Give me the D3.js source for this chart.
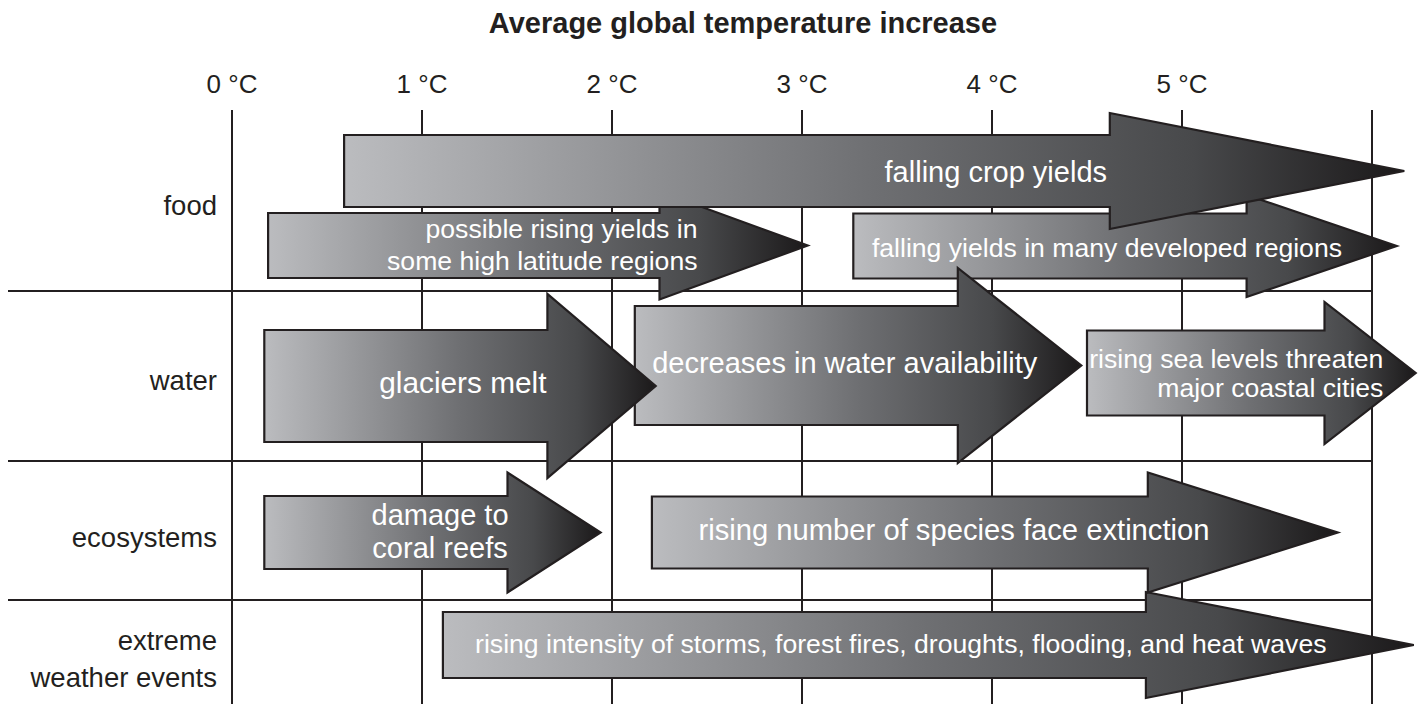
<!DOCTYPE html>
<html>
<head>
<meta charset="utf-8">
<script src="https://cdn.jsdelivr.net/npm/d3@7"></script>
<style>
  html, body { margin: 0; padding: 0; background: #fff; }
  svg { display: block; font-family: "Liberation Sans", Arial, Helvetica, sans-serif; }
</style>
</head>
<body>
<svg id="chart" width="1420" height="704"></svg>
<script>
// ---------- DATA ----------
const titleText = "Average global temperature increase";
const tempTicks = [0, 1, 2, 3, 4, 5, 6];
const tickLabels = ["0 °C", "1 °C", "2 °C", "3 °C", "4 °C", "5 °C", ""];
const categories = ["food", "water", "ecosystems", "extreme weather events"];
const categoryLines = [["food"], ["water"], ["ecosystems"], ["extreme", "weather events"]];

// impacts (in drawing order)
const impactIds = ["possible", "fallingMany", "fallingCrop", "decreases", "glaciers", "seaLevels", "coral", "storms", "species"];
const impactLines = [
  ["possible rising yields in", "some high latitude regions"],
  ["falling yields in many developed regions"],
  ["falling crop yields"],
  ["decreases in water availability"],
  ["glaciers melt"],
  ["rising sea levels threaten", "major coastal cities"],
  ["damage to", "coral reefs"],
  ["rising intensity of storms, forest fires, droughts, flooding, and heat waves"],
  ["rising number of species face extinction"]
];
const impactCategory = ["food", "food", "food", "water", "water", "water", "ecosystems", "extreme weather events", "ecosystems"];
const impactStart     = [0.19, 3.27, 0.59, 2.12, 0.17, 4.50, 0.17, 1.11, 2.21];   // °C where arrow begins
const impactHeadStart = [2.25, 5.34, 4.62, 3.82, 1.66, 5.75, 1.45, 4.81, 4.82];   // °C where arrow head begins
const impactEnd       = [3.03, 6.13, 6.17, 4.47, 2.23, 6.23, 1.94, 6.22, 5.82];   // °C at arrow tip

// ---------- LAYOUT (positions / sizes, not data) ----------
const gridTop = 110, gridBottom = 704;
const lineLeft = 8;
const rowBounds = { "food": [110, 291], "water": [291, 461], "ecosystems": [461, 600], "extreme weather events": [600, 704] };
// vertical geometry of each arrow: centre offset from row top, body half-height, head half-height
const arrowGeom = {
  possible:    { yc: 135.5, bh: 32.5, hh: 54 },
  fallingMany: { yc: 136,   bh: 32.5, hh: 51 },
  fallingCrop: { yc: 61,    bh: 36,   hh: 58 },
  decreases:   { yc: 74.5,  bh: 59.5, hh: 97.5 },
  glaciers:    { yc: 95,    bh: 56,   hh: 92 },
  seaLevels:   { yc: 82,    bh: 42.5, hh: 71 },
  coral:       { yc: 71.5,  bh: 36.5, hh: 60 },
  storms:      { yc: 45,    bh: 33,   hh: 53 },
  species:     { yc: 71.5,  bh: 36,   hh: 60 }
};
// text placement: x in °C, anchor, first baseline offset from row top, line spacing, font size
const textGeom = {
  possible:    { x: 2.45,  anchor: "end",    base: 128, gap: 32, fs: 26.6 },
  fallingMany: { x: 4.605, anchor: "middle", base: 147, gap: 0,  fs: 26.6 },
  fallingCrop: { x: 4.02,  anchor: "middle", base: 72,  gap: 0,  fs: 29 },
  decreases:   { x: 3.225, anchor: "middle", base: 82,  gap: 0,  fs: 29 },
  glaciers:    { x: 1.215, anchor: "middle", base: 102, gap: 0,  fs: 29.8 },
  seaLevels:   { x: 6.06,  anchor: "end",    base: 77,  gap: 29, fs: 26.6 },
  coral:       { x: 1.095, anchor: "middle", base: 64,  gap: 33, fs: 29 },
  storms:      { x: 3.52,  anchor: "middle", base: 53,  gap: 0,  fs: 26.6 },
  species:     { x: 3.80,  anchor: "middle", base: 79,  gap: 0,  fs: 29.2 }
};

const ink = "#231f20";
const svg = d3.select("#chart");

const x = d3.scaleLinear().domain([0, 6]).range([232, 1372]);

// gradient defs
const defs = svg.append("defs");
impactIds.forEach(id => {
  const g = defs.append("linearGradient").attr("id", "grad-" + id)
    .attr("x1", 0).attr("y1", 0).attr("x2", 1).attr("y2", 0);
  g.append("stop").attr("offset", 0).attr("stop-color", "#bbbcbf");
  g.append("stop").attr("offset", 0.5).attr("stop-color", "#6e6f72");
  g.append("stop").attr("offset", 0.8).attr("stop-color", "#48494b");
  g.append("stop").attr("offset", 1).attr("stop-color", "#1b191a");
});

// title
svg.append("text")
  .attr("x", 743).attr("y", 33)
  .attr("text-anchor", "middle")
  .attr("font-weight", "bold")
  .attr("font-size", 29)
  .attr("fill", ink)
  .text(titleText);

// tick labels
svg.append("g").selectAll("text").data(tempTicks).join("text")
  .attr("x", d => x(d)).attr("y", 93)
  .attr("text-anchor", "middle")
  .attr("font-size", 26)
  .attr("fill", ink)
  .text((d, i) => tickLabels[i]);

// grid lines
svg.append("g").selectAll("line").data(tempTicks).join("line")
  .attr("x1", d => x(d)).attr("x2", d => x(d))
  .attr("y1", gridTop).attr("y2", gridBottom)
  .attr("stroke", ink).attr("stroke-width", 2);

svg.append("g").selectAll("line").data(categories.slice(1)).join("line")
  .attr("x1", lineLeft).attr("x2", x(6))
  .attr("y1", d => rowBounds[d][0]).attr("y2", d => rowBounds[d][0])
  .attr("stroke", ink).attr("stroke-width", 2);

// category labels
const catG = svg.append("g");
const catBase = { "food": 105, "water": 99, "ecosystems": 86, "extreme weather events": 50 };
categories.forEach((c, i) => {
  const top = rowBounds[c][0];
  const t0 = catG.append("text")
    .attr("text-anchor", "end")
    .attr("font-size", 27.5)
    .attr("fill", ink);
  categoryLines[i].forEach((ln, j) => {
    t0.append("tspan").attr("x", 217).attr("y", top + catBase[c] + j * 37).text(ln);
  });
});

// arrows
const arrowG = svg.append("g");
impactIds.forEach((id, i) => {
  const g = arrowGeom[id];
  const top = rowBounds[impactCategory[i]][0];
  const yc = top + g.yc;
  const x0 = x(impactStart[i]), xh = x(impactHeadStart[i]), xe = x(impactEnd[i]);
  const p = d3.path();
  p.moveTo(x0, yc - g.bh);
  p.lineTo(xh, yc - g.bh);
  p.lineTo(xh, yc - g.hh);
  p.lineTo(xe, yc);
  p.lineTo(xh, yc + g.hh);
  p.lineTo(xh, yc + g.bh);
  p.lineTo(x0, yc + g.bh);
  p.closePath();
  arrowG.append("path")
    .attr("d", p.toString())
    .attr("fill", `url(#grad-${id})`)
    .attr("stroke", ink)
    .attr("stroke-width", 2.2)
    .attr("stroke-linejoin", "miter");
});

// arrow texts
const textG = svg.append("g");
impactIds.forEach((id, i) => {
  const tg = textGeom[id];
  const top = rowBounds[impactCategory[i]][0];
  const t = textG.append("text")
    .attr("text-anchor", tg.anchor)
    .attr("font-size", tg.fs)
    .attr("fill", "#ffffff");
  impactLines[i].forEach((ln, j) => {
    t.append("tspan").attr("x", x(tg.x)).attr("y", top + tg.base + j * tg.gap).text(ln);
  });
});
</script>
</body>
</html>
